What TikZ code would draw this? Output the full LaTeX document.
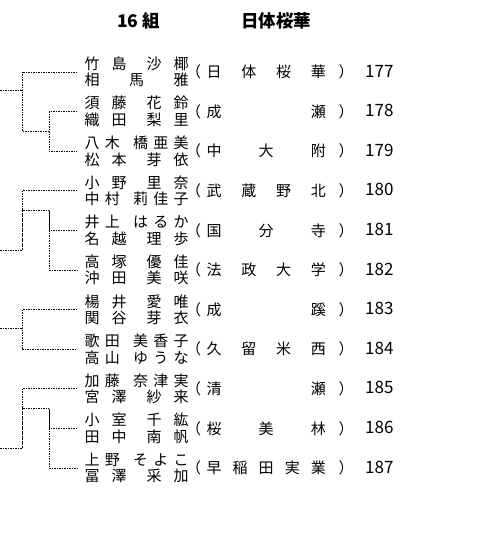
\documentclass[tikz,border=0pt]{standalone}
\usepackage{fontspec}
\setmainfont{Noto Sans CJK JP}
\usepackage{tikz}

\newcommand{\namegap}{\hspace{8pt}}
\tikzset{
  link/.style={line width=0.7pt, dash pattern=on 1.5pt off 1pt},
  player/.style={anchor=west, inner xsep=7.5pt, inner ysep=0pt, align=left,
    font=\fontsize{15}{16.5}\selectfont},
  school/.style={anchor=west, inner sep=0pt, font=\fontsize{15}{16}\selectfont},
  entry/.style={anchor=west, inner sep=0pt, font=\fontsize{17}{18}\selectfont},
  head/.style={inner sep=0pt, font=\fontsize{17.5}{20}\selectfont\bfseries}
}

\begin{document}
\begin{tikzpicture}[x=1pt, y=-1pt]
  \useasboundingbox (0,0) rectangle (478,540);
  \node[head] (grp) at (138.5,21) {16 組};
  \node[head] (team) at (276,21) {日体桜華};

  \foreach \i/\lna/\lnb/\sch/\ent in {
      1/竹 島\namegap{} 沙 椰/相 馬 雅/日 体 桜 華/177,
      2/須 藤\namegap{} 花 鈴/織 田\namegap{} 梨 里/成 瀬/178,
      3/八 木\namegap{} 橋 亜 美/松 本\namegap{} 芽 依/中 大 附/179,
      4/小 野\namegap{} 里 奈/中 村\namegap{} 莉 佳 子/武 蔵 野 北/180,
      5/井 上\namegap{} は る か/名 越\namegap{} 理 歩/国 分 寺/181,
      6/高 塚\namegap{} 優 佳/沖 田\namegap{} 美 咲/法 政 大 学/182,
      7/楊 井\namegap{} 愛 唯/関 谷\namegap{} 芽 衣/成 蹊/183,
      8/歌 田\namegap{} 美 香 子/高 山\namegap{} ゆ う な/久 留 米 西/184,
      9/加 藤\namegap{} 奈 津 実/宮 澤\namegap{} 紗 来/清 瀬/185,
      10/小 室\namegap{} 千 紘/田 中\namegap{} 南 帆/桜 美 林/186,
      11/上 野\namegap{} そ よ こ/冨 澤\namegap{} 采 加/早 稲 田 実 業/187}{
    \node[player] (n\i) at (77,{32.4+\i*39.6})
      {\makebox[104pt][s]{\lna}\\\makebox[104pt][s]{\lnb}};
    \node[school] (s\i) at (186,{32.4+\i*39.6})
      {（\hspace{5.4pt}\makebox[119.2pt][s]{\sch}\hspace{12.9pt}）};
    \node[entry] (r\i) at (365,{31.4+\i*39.6}) {\ent};
  }

  % bracket joints
  \coordinate (m1) at (49,131.4);
  \coordinate (k1) at (22,90);
  \coordinate (e1) at (0,90);
  \coordinate (m2) at (49,210.6);
  \coordinate (k2) at (22,250);
  \coordinate (e2) at (0,250);
  \coordinate (k3) at (22,328);
  \coordinate (e3) at (0,328);
  \coordinate (m4) at (49,408.6);
  \coordinate (k4) at (22,448);
  \coordinate (e4) at (0,448);

  \foreach \a/\b/\c/\g in {1/2/3/1, 4/5/6/2, 9/10/11/4}{
    \draw[link] (n\b.west) -| (m\g) |- (n\c.west);
    \draw[link] (n\a.west) -| (k\g) |- (m\g);
    \draw[link] (e\g) -- (k\g);
  }
  \draw[link] (n7.west) -| (k3) |- (n8.west);
  \draw[link] (e3) -- (k3);
\end{tikzpicture}
\end{document}
